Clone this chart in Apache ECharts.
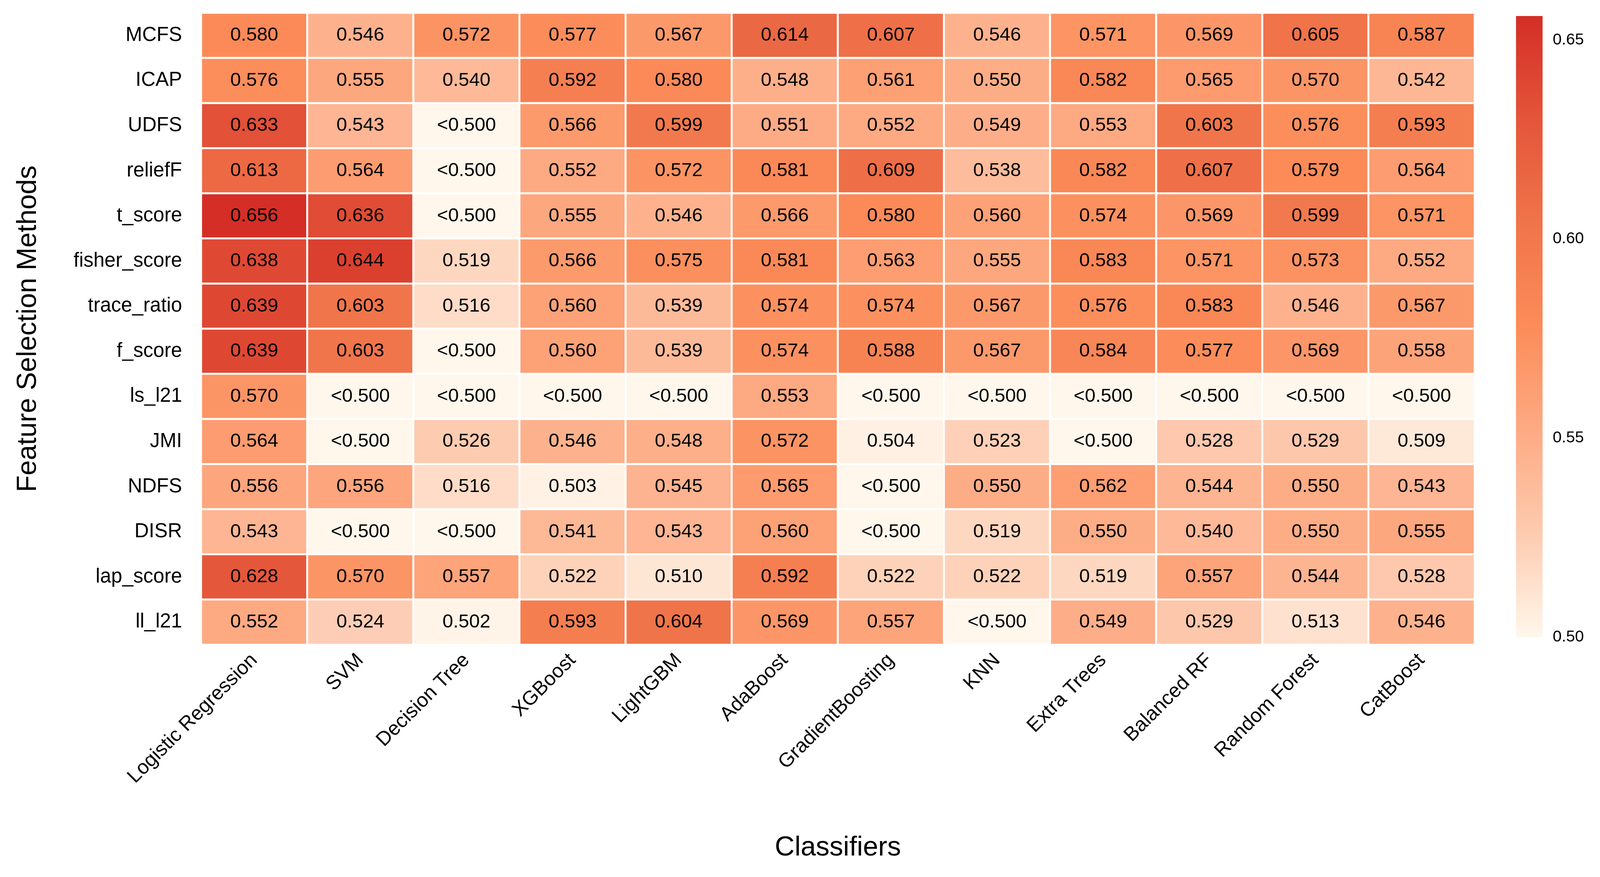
<!DOCTYPE html>
<html>
<head>
<meta charset="utf-8">
<script src="https://cdn.jsdelivr.net/npm/echarts@6/dist/echarts.min.js"></script>
<style>
html,body{margin:0;padding:0;background:#fff;overflow:hidden;}
#chart{width:100vw;height:100vh;}
</style>
</head>
<body>
<div id="chart"></div>
<script>
const classifiers = ['Logistic Regression','SVM','Decision Tree','XGBoost','LightGBM','AdaBoost','GradientBoosting','KNN','Extra Trees','Balanced RF','Random Forest','CatBoost'];
const methods = ['MCFS','ICAP','UDFS','reliefF','t_score','fisher_score','trace_ratio','f_score','ls_l21','JMI','NDFS','DISR','lap_score','ll_l21'];
const L = '<0.500';
const MCFS        = [0.580,0.546,0.572,0.577,0.567,0.614,0.607,0.546,0.571,0.569,0.605,0.587];
const ICAP        = [0.576,0.555,0.540,0.592,0.580,0.548,0.561,0.550,0.582,0.565,0.570,0.542];
const UDFS        = [0.633,0.543,L,0.566,0.599,0.551,0.552,0.549,0.553,0.603,0.576,0.593];
const reliefF     = [0.613,0.564,L,0.552,0.572,0.581,0.609,0.538,0.582,0.607,0.579,0.564];
const t_score     = [0.656,0.636,L,0.555,0.546,0.566,0.580,0.560,0.574,0.569,0.599,0.571];
const fisher_score= [0.638,0.644,0.519,0.566,0.575,0.581,0.563,0.555,0.583,0.571,0.573,0.552];
const trace_ratio = [0.639,0.603,0.516,0.560,0.539,0.574,0.574,0.567,0.576,0.583,0.546,0.567];
const f_score     = [0.639,0.603,L,0.560,0.539,0.574,0.588,0.567,0.584,0.577,0.569,0.558];
const ls_l21      = [0.570,L,L,L,L,0.553,L,L,L,L,L,L];
const JMI         = [0.564,L,0.526,0.546,0.548,0.572,0.504,0.523,L,0.528,0.529,0.509];
const NDFS        = [0.556,0.556,0.516,0.503,0.545,0.565,L,0.550,0.562,0.544,0.550,0.543];
const DISR        = [0.543,L,L,0.541,0.543,0.560,L,0.519,0.550,0.540,0.550,0.555];
const lap_score   = [0.628,0.570,0.557,0.522,0.510,0.592,0.522,0.522,0.519,0.557,0.544,0.528];
const ll_l21      = [0.552,0.524,0.502,0.593,0.604,0.569,0.557,L,0.549,0.529,0.513,0.546];
const rows = [MCFS,ICAP,UDFS,reliefF,t_score,fisher_score,trace_ratio,f_score,ls_l21,JMI,NDFS,DISR,lap_score,ll_l21];
const scaleMin = 0.50, scaleMax = 0.656;
const colorTicks = [0.50,0.55,0.60,0.65];

const palette = ['#fff7ec','#fdcbb0','#fdaa83','#fc8c59','#f0744a','#e4553a','#d42e26'];

const data = [];
rows.forEach((r, yi) => r.forEach((v, xi) => {
  if (v === L) data.push({value:[xi, yi, scaleMin], lab: L});
  else data.push({value:[xi, yi, v], lab: v.toFixed(3)});
}));

const FONT = '"Liberation Sans", Arial, Helvetica, sans-serif';
const el = document.getElementById('chart');
const chart = echarts.init(el);
const gradStops = palette.map((c, i) => ({offset: 1 - i/(palette.length-1), color: c})).reverse();

const W = el.clientWidth, H = el.clientHeight;
const sx = W / 4366, sy = H / 2246, sf = Math.min(sx, sy);
const X = v => Math.round(v * sx), Y = v => Math.round(v * sy), F = v => Math.round(v * sf);

chart.setOption({
  backgroundColor: '#ffffff',
  animation: false,
  textStyle: {fontFamily: FONT},
  grid: [
    {left: X(549), right: W - X(4024), top: Y(33), bottom: H - Y(1651), containLabel: false},
    {left: X(4137), width: X(73), top: Y(41), height: Y(1591), containLabel: false}
  ],
  xAxis: [
    {type: 'category', data: classifiers, gridIndex: 0,
     axisLine: {show: false}, axisTick: {show: false}, splitLine: {show: false},
     axisLabel: {rotate: 45, interval: 0, margin: F(34), fontSize: F(54), color: '#000', fontFamily: FONT}},
    {type: 'category', data: ['cb'], gridIndex: 1,
     axisLine: {show: false}, axisTick: {show: false}, axisLabel: {show: false}, splitLine: {show: false}}
  ],
  yAxis: [
    {type: 'category', data: methods, inverse: true, gridIndex: 0,
     axisLine: {show: false}, axisTick: {show: false}, splitLine: {show: false},
     axisLabel: {margin: F(52), fontSize: F(54), color: '#000', fontFamily: FONT}},
    {type: 'value', gridIndex: 1, position: 'right', min: scaleMin, max: scaleMax, interval: 0.05,
     axisLine: {show: false}, splitLine: {show: false},
     axisTick: {show: true, inside: true, length: F(18), lineStyle: {color: '#ffffff', width: 2}},
     axisLabel: {showMaxLabel: false, margin: F(28), fontSize: F(44), color: '#000', fontFamily: FONT,
       formatter: v => colorTicks.some(t => Math.abs(t - v) < 1e-9) ? v.toFixed(2) : ''}},
    {type: 'value', gridIndex: 1, position: 'left', min: scaleMin, max: scaleMax, interval: 0.05,
     axisLine: {show: false}, splitLine: {show: false}, axisLabel: {show: false},
     axisTick: {show: true, inside: true, length: F(18), lineStyle: {color: '#ffffff', width: 2}}}
  ],
  visualMap: {
    show: false, type: 'continuous', min: scaleMin, max: scaleMax, dimension: 2, seriesIndex: 0,
    inRange: {color: palette}
  },
  series: [{
    type: 'heatmap', xAxisIndex: 0, yAxisIndex: 0, data: data,
    itemStyle: {borderColor: '#ffffff', borderWidth: F(5)},
    label: {show: true, fontSize: F(52), color: '#000', fontFamily: FONT,
      formatter: p => p.data.lab},
    emphasis: {disabled: true}
  }, {
    type: 'custom', xAxisIndex: 1, yAxisIndex: 1, z: 1,
    data: [[0, scaleMin, scaleMax]],
    renderItem: (params, api) => {
      const p0 = api.coord([api.value(0), api.value(1)]);
      const p1 = api.coord([api.value(0), api.value(2)]);
      const w = api.size([1, 0])[0];
      return {
        type: 'rect',
        shape: {x: p0[0] - w / 2, y: p1[1], width: w, height: p0[1] - p1[1]},
        style: {fill: new echarts.graphic.LinearGradient(0, 0, 0, 1, gradStops)}
      };
    },
    silent: true
  }],
  graphic: [
    {type: 'text', x: X(2286), y: Y(2172),
     style: {text: 'Classifiers', fontSize: F(75), fontFamily: FONT, fill: '#000',
      textAlign: 'center', textVerticalAlign: 'middle'}},
    {type: 'text', rotation: Math.PI/2, x: X(78), y: Y(842),
     style: {text: 'Feature Selection Methods', fontSize: F(75), fontFamily: FONT, fill: '#000',
      textAlign: 'center', textVerticalAlign: 'middle'}}
  ]
});
</script>
</body>
</html>
